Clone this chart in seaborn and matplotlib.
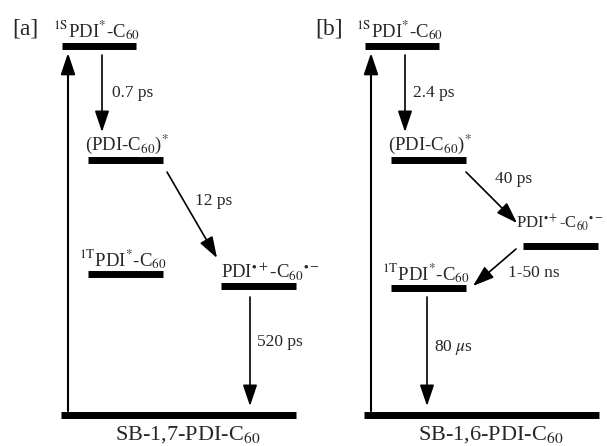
import matplotlib
matplotlib.use("Agg")
import matplotlib.pyplot as plt
import seaborn as sns
import pandas as pd

sns.set_theme(style="white")
plt.rcParams['font.family'] = ['Liberation Serif', 'DejaVu Serif']
plt.rcParams['mathtext.fontset'] = 'stix'

# ---- data: energy levels (arbitrary units above ground state) ----
states = ["ground", "1S", "CT*", "1T", "RIP"]
level_labels = ["", "$^{\\mathrm{1S}}$PDI$^{*}$-C$_{60}$", "(PDI-C$_{60}$)$^{*}$",
                "$^{\\mathrm{1T}}$PDI$^{*}$-C$_{60}$", "PDI$^{\\bullet+}$-C$_{60}$$^{\\bullet-}$"]
energy_a = [0, 369, 255, 141, 129]
energy_b = [0, 369, 255, 127, 169]
panel_tags = ["[a]", "[b]"]
compounds = ["SB-1,7-PDI-C$_{60}$", "SB-1,6-PDI-C$_{60}$"]
rates_a = ["0.7 ps", "12 ps", "520 ps"]
rates_b = ["2.4 ps", "40 ps", "1-50 ns", "80 $\\mu$s"]

# ---- layout (pixel x-extents of level bars, per panel) ----
xext_a = {"ground": (61, 296), "1S": (62, 136), "CT*": (88, 163), "1T": (88, 163), "RIP": (221, 296)}
xext_b = {"ground": (364, 599), "1S": (365, 439), "CT*": (391, 466), "1T": (391, 466), "RIP": (523, 598)}

fig = plt.figure(figsize=(6.07, 4.46), dpi=100)
ax = fig.add_axes([0, 0, 1, 1])

rows = []
for panel, energies, xext in (("a", energy_a, xext_a), ("b", energy_b, xext_b)):
    for s, e in zip(states, energies):
        x0, x1 = xext[s]
        rows.append({"unit": panel + s, "x": x0, "E": e})
        rows.append({"unit": panel + s, "x": x1, "E": e})
df = pd.DataFrame(rows)
sns.lineplot(data=df, x="x", y="E", units="unit", estimator=None, color="black",
             lw=5.0, ax=ax, legend=False, solid_capstyle="butt", sort=False)

ax.set_xlim(0, 607)
ax.set_ylim(-31, 415)
ax.axis("off")

ea = dict(zip(states, energy_a))
eb = dict(zip(states, energy_b))

def arrow(x0, y0, x1, y1, lw=1.2):
    ax.annotate("", xy=(x1, y1), xytext=(x0, y0),
                arrowprops=dict(arrowstyle="-|>,head_length=0.65,head_width=0.22",
                                mutation_scale=20, lw=lw, color="black",
                                shrinkA=0, shrinkB=0))

fs_rate = 12.5
fs_lvl = 13.5

# panel a
arrow(68, ea["ground"] + 4, 68, ea["1S"] - 7, lw=1.5)
arrow(102, ea["1S"] - 9, 102, ea["CT*"] + 28)
arrow(167, ea["CT*"] - 12, 217, ea["RIP"] + 28)
arrow(250, ea["RIP"] - 11, 250, ea["ground"] + 9)
# panel b
arrow(371, eb["ground"] + 4, 371, eb["1S"] - 7, lw=1.5)
arrow(405, eb["1S"] - 9, 405, eb["CT*"] + 28)
arrow(466, eb["CT*"] - 12, 517, eb["RIP"] + 23)
arrow(516, eb["RIP"] - 3, 473, eb["1T"] + 2)
arrow(427, eb["1T"] - 9, 427, eb["ground"] + 9)

# panel tags
ax.text(12, 380, panel_tags[0], fontsize=17, va="baseline", ha="left")
ax.text(315, 380, panel_tags[1], fontsize=17, va="baseline", ha="left")

# level labels panel a
ax.text(53, ea["1S"] + 9, level_labels[1], fontsize=fs_lvl, va="baseline")
ax.text(85, ea["CT*"] + 10, level_labels[2], fontsize=fs_lvl, va="baseline")
ax.text(79, ea["1T"] + 8, level_labels[3], fontsize=fs_lvl, va="baseline")
ax.text(221, ea["RIP"] + 8, level_labels[4], fontsize=fs_lvl, va="baseline")
# level labels panel b
ax.text(356, eb["1S"] + 9, level_labels[1], fontsize=fs_lvl, va="baseline")
ax.text(388, eb["CT*"] + 10, level_labels[2], fontsize=fs_lvl, va="baseline")
ax.text(382, eb["1T"] + 8, level_labels[3], fontsize=fs_lvl, va="baseline")
ax.text(516, eb["RIP"] + 18, level_labels[4], fontsize=12, va="baseline")

# rate labels
ax.text(112, 318, rates_a[0], fontsize=fs_rate, va="baseline")
ax.text(195, 210, rates_a[1], fontsize=fs_rate, va="baseline")
ax.text(257, 69, rates_a[2], fontsize=fs_rate, va="baseline")
ax.text(413, 318, rates_b[0], fontsize=fs_rate, va="baseline")
ax.text(495, 232, rates_b[1], fontsize=fs_rate, va="baseline")
ax.text(508, 138, rates_b[2], fontsize=fs_rate, va="baseline")
ax.text(434, 64, rates_b[3], fontsize=fs_rate, va="baseline")

# compound labels
ax.text(188, -25, compounds[0], fontsize=16, va="baseline", ha="center")
ax.text(491, -25, compounds[1], fontsize=16, va="baseline", ha="center")

fig.savefig("out.png", dpi=100, facecolor="white")
